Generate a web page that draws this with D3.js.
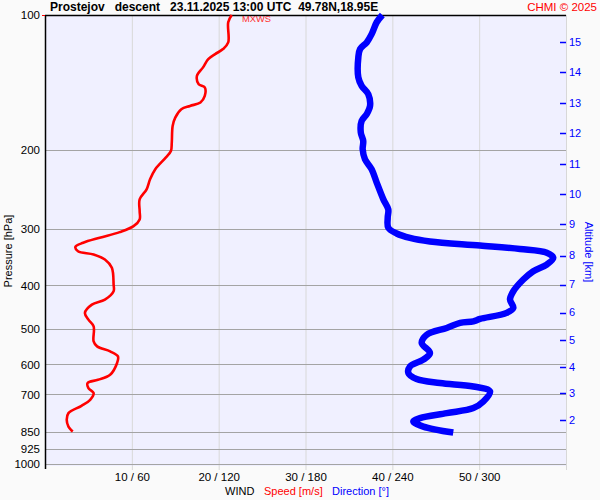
<!DOCTYPE html>
<html>
<head>
<meta charset="utf-8">
<script src="https://cdn.jsdelivr.net/npm/d3@7"></script>
<style>
  body { margin: 0; background: #fafafa; }
  svg { display: block; font-family: "Liberation Sans", Arial, sans-serif; }
  text { white-space: pre; }
</style>
</head>
<body>
<div id="chart"></div>
<script>
let width = 600;
let height = 500;
let margin = ({top: 15, right: 34, bottom: 36, left: 45});

// pressure levels on the left axis
let pressureTicks = [100, 200, 300, 400, 500, 600, 700, 850, 925, 1000];
// bottom axis: speed [m/s] / direction [deg]
let speedTicks = [10, 20, 30, 40, 50];
// altitude ticks on the right side [km] and their pressure [hPa]
let altKm  = [15, 14, 13, 12, 11, 10, 9, 8, 7, 6, 5, 4, 3, 2];
let altHpa = [114.9, 134.0, 157.2, 183.4, 215.0, 250.9, 292.7, 343.3, 398.4, 460.1, 528.6, 607.2, 694.0, 797.3];

// wind speed profile
let speedHpa = [100, 103.8, 115.1, 119.1, 122.2, 125.4, 130.8, 136.6, 142.6, 145.0, 151.4, 156.6, 159.4, 162.1,
  169.2, 176.6, 192.4, 200.8, 207.8, 220.6, 232.3, 244.5, 257.4, 273.4, 285.3, 295.3, 304.5, 313.4, 321.6,
  328.3, 335.8, 341.5, 350.4, 365.7, 398.4, 412.4, 430.4, 441.6, 460.8, 476.9, 493.6, 533.2, 547.1, 561.3,
  575.9, 595.7, 632.7, 649.2, 660.3, 677.5, 695.1, 719.5, 742.0, 770.4, 797.4, 825.3, 846.8];
let speedMs = [21.5, 21.1, 21.1, 20.5, 19.6, 18.8, 18.2, 17.5, 17.7, 18.4, 18.4, 17.9, 16.7, 15.7,
  15.0, 14.7, 14.6, 14.5, 13.9, 12.7, 12.1, 11.7, 10.9, 10.9, 10.9, 10.2, 8.6, 6.3, 4.4,
  3.5, 3.8, 5.6, 6.9, 7.7, 7.9, 7.9, 6.9, 5.4, 4.6, 5.0, 5.6, 5.6, 6.0, 7.5,
  8.4, 8.3, 7.5, 6.1, 4.9, 5.0, 5.6, 5.2, 4.2, 2.7, 2.5, 2.7, 3.2];

// wind direction profile
let dirHpa = [100, 103.8, 110.3, 115.1, 119.1, 124.3, 137.7, 143.8, 150.1, 159.4, 166.3, 172.2, 182.7, 190.8,
  199.1, 209.6, 220.6, 236.2, 257.4, 271.0, 282.8, 297.7, 306.6, 313.7, 319.4, 326.1, 332.0, 338.5, 347.3,
  359.5, 372.1, 388.3, 412.4, 430.4, 449.1, 460.8, 475.2, 481.1, 485.1, 497.7, 515.2, 537.6, 565.9, 585.7,
  606.3, 627.2, 646.8, 660.3, 672.0, 689.3, 725.8, 750.8, 770.4, 790.4, 804.3, 825.3, 851.1];
let dirDeg = [233.1, 229.2, 225.7, 222.3, 217.7, 216.5, 216.5, 218.8, 223.4, 224.6, 222.3, 218.8, 218.2, 219.9,
  219.5, 221.1, 225.7, 229.2, 233.8, 237.2, 236.8, 237.2, 243.0, 252.2, 266.0, 300.6, 328.2, 346.7, 351.2,
  346.7, 337.4, 330.5, 323.6, 321.3, 323.6, 319.0, 300.6, 296.0, 286.8, 277.6, 263.8, 260.3, 266.0, 261.4,
  252.2, 251.1, 256.8, 272.9, 296.0, 307.5, 302.9, 296.0, 277.6, 259.1, 254.5, 261.4, 282.1];

let svg = d3.select("#chart")
    .append("svg")
    .attr("width", width)
    .attr("height", height);

let yScale = d3.scaleLog()
    .domain([100, 1000])
    .range([margin.top, height - margin.bottom]);

let xSpeed = d3.scaleLinear()
    .domain([0, 60])
    .range([margin.left, width - margin.right]);

let xDir = d3.scaleLinear()
    .domain([0, 360])
    .range([margin.left, width - margin.right]);

// plot background
svg.append("rect")
    .attr("x", margin.left)
    .attr("y", margin.top)
    .attr("width", xSpeed(60) - margin.left)
    .attr("height", yScale(1000) - margin.top + 2)
    .attr("fill", "#f0f0ff");

// vertical grid
svg.append("g")
    .selectAll("line")
    .data(speedTicks.concat([60]))
    .join("line")
    .attr("x1", d => xSpeed(d) + 0.5)
    .attr("x2", d => xSpeed(d) + 0.5)
    .attr("y1", margin.top)
    .attr("y2", yScale(1000) + 6)
    .attr("stroke", "#d8d8d8")
    .attr("stroke-width", 1);

// horizontal grid
svg.append("g")
    .selectAll("line")
    .data(pressureTicks.filter(p => p > 100))
    .join("line")
    .attr("x1", margin.left)
    .attr("x2", xSpeed(60))
    .attr("y1", d => Math.round(yScale(d)) + 0.5)
    .attr("y2", d => Math.round(yScale(d)) + 0.5)
    .attr("stroke", "#a4a4a4")
    .attr("stroke-width", 1);

// left axis
let yAxis = d3.axisLeft(yScale)
    .tickValues(pressureTicks)
    .tickFormat(d3.format("d"))
    .tickSize(0)
    .tickPadding(5);

let gy = svg.append("g")
    .attr("transform", "translate(" + margin.left + ",0)")
    .call(yAxis);
gy.select(".domain").remove();
gy.selectAll("text")
    .attr("fill", "#000")
    .style("font-size", "11.5px");

svg.append("line")
    .attr("x1", margin.left + 0.5).attr("x2", margin.left + 0.5)
    .attr("y1", margin.top).attr("y2", yScale(1000) + 5)
    .attr("stroke", "#000").attr("stroke-width", 1.5);
svg.append("line")
    .attr("x1", margin.left).attr("x2", xSpeed(60))
    .attr("y1", margin.top + 0.5).attr("y2", margin.top + 0.5)
    .attr("stroke", "#000").attr("stroke-width", 1.5);
svg.append("line")
    .attr("x1", margin.left - 3).attr("x2", margin.left)
    .attr("y1", margin.top + 0.5).attr("y2", margin.top + 0.5)
    .attr("stroke", "red").attr("stroke-width", 1);

svg.append("text")
    .attr("transform", "translate(11.5,251) rotate(-90)")
    .attr("text-anchor", "middle")
    .style("font-size", "11px")
    .attr("fill", "#000")
    .text("Pressure [hPa]");

// bottom axis labels
let xAxis = d3.axisBottom(xSpeed)
    .tickValues(speedTicks)
    .tickFormat(d => d + " / " + d * 6)
    .tickSize(0)
    .tickPadding(8);

let gx = svg.append("g")
    .attr("transform", "translate(0," + (yScale(1000) + 1) + ")")
    .call(xAxis);
gx.select(".domain").remove();
gx.selectAll("text")
    .attr("fill", "#000")
    .style("font-size", "11.5px");

let legend = svg.append("text")
    .attr("y", 495)
    .style("font-size", "11px");
legend.append("tspan").attr("x", 225).attr("fill", "#000").text("WIND");
legend.append("tspan").attr("x", 264).attr("fill", "#ff0000").text("Speed [m/s]");
legend.append("tspan").attr("x", 332).attr("fill", "#0000ff").text("Direction [°]");

// altitude axis
let gAlt = svg.append("g");
gAlt.selectAll("line")
    .data(altKm)
    .join("line")
    .attr("x1", xSpeed(60) - 6)
    .attr("x2", xSpeed(60))
    .attr("y1", (d, i) => Math.round(yScale(altHpa[i])) + 0.5)
    .attr("y2", (d, i) => Math.round(yScale(altHpa[i])) + 0.5)
    .attr("stroke", "#0000ff")
    .attr("stroke-width", 1.5);
gAlt.selectAll("text")
    .data(altKm)
    .join("text")
    .attr("x", xSpeed(60) + 3)
    .attr("y", (d, i) => yScale(altHpa[i]))
    .attr("dy", "0.35em")
    .attr("fill", "#0000ff")
    .style("font-size", "11px")
    .text(d => d);

svg.append("text")
    .attr("transform", "translate(585,252) rotate(90)")
    .attr("text-anchor", "middle")
    .attr("fill", "#0000ff")
    .style("font-size", "11px")
    .text("Altitude [km]");

// profiles
let speedLine = d3.line()
    .x((d, i) => xSpeed(speedMs[i]))
    .y(d => yScale(d))
    .curve(d3.curveCatmullRom.alpha(0.5));

svg.append("path")
    .datum(speedHpa)
    .attr("d", speedLine)
    .attr("fill", "none")
    .attr("stroke", "#ff0000")
    .attr("stroke-width", 2.6)
    .attr("stroke-linejoin", "round");

let dirLine = d3.line()
    .x((d, i) => xDir(dirDeg[i]))
    .y(d => yScale(d))
    .curve(d3.curveCatmullRom.alpha(0.5));

svg.append("path")
    .datum(dirHpa)
    .attr("d", dirLine)
    .attr("fill", "none")
    .attr("stroke", "#0000ff")
    .attr("stroke-width", 6.5)
    .attr("stroke-linejoin", "round");

// max wind speed marker label
svg.append("text")
    .attr("x", 242)
    .attr("y", 22)
    .attr("fill", "#ff3030")
    .style("font-size", "8.5px")
    .attr("textLength", 29)
    .attr("lengthAdjust", "spacingAndGlyphs")
    .text("MXWS");

// titles
svg.append("text")
    .attr("x", 50)
    .attr("y", 11)
    .attr("fill", "#000")
    .style("font-size", "12px")
    .style("font-weight", "bold")
    .text("Prostejov   descent   23.11.2025 13:00 UTC  49.78N,18.95E");

svg.append("text")
    .attr("x", 597)
    .attr("y", 11)
    .attr("text-anchor", "end")
    .attr("fill", "#ff0000")
    .style("font-size", "11.5px")
    .text("CHMI © 2025");
</script>
</body>
</html>
